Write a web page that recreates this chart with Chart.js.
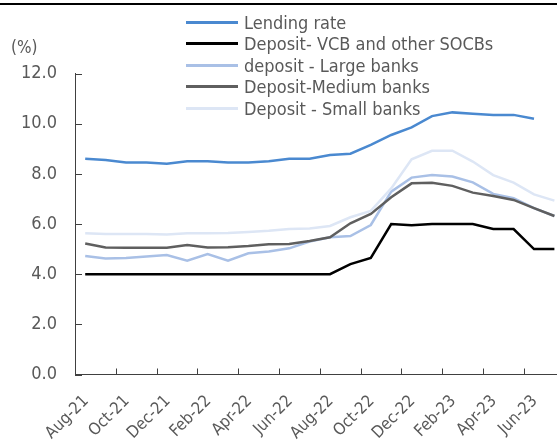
<!DOCTYPE html>
<html>
<head>
<meta charset="utf-8">
<script src="https://cdn.jsdelivr.net/npm/chart.js@4.4.0/dist/chart.umd.min.js"></script>
<style>
  html, body { margin: 0; padding: 0; background: #fff; overflow: hidden; }
  #wrap { position: relative; width: 557px; height: 441px; overflow: hidden; }
  #box { position: absolute; left: 0; top: 0; width: 566px; height: 441px; }
  #topline { position: absolute; left: 0; top: 3px; width: 557px; height: 2px; background: #000; }
  #unit { position: absolute; left: 11px; top: 37px; font: 17px 'DejaVu Sans Condensed', 'DejaVu Sans', sans-serif; color: #595959; }
  #legend { position: absolute; left: 186px; top: 0; font: 18px 'DejaVu Sans Condensed', 'DejaVu Sans', sans-serif; color: #595959; }
  .row { position: absolute; left: 0; height: 20px; display: flex; align-items: center; white-space: nowrap; }
  .swatch { width: 52px; height: 3px; margin-right: 6px; }
</style>
</head>
<body>
<div id="wrap">
  <div id="box"><canvas id="myChart"></canvas></div>
  <div id="topline"></div>
  <div id="unit">(%)</div>
  <div id="legend"></div>
</div>
<script>
const months = ['Aug-21','Sep-21','Oct-21','Nov-21','Dec-21','Jan-22','Feb-22','Mar-22','Apr-22','May-22','Jun-22','Jul-22',
                'Aug-22','Sep-22','Oct-22','Nov-22','Dec-22','Jan-23','Feb-23','Mar-23','Apr-23','May-23','Jun-23','Jul-23']

const names = ['Lending rate', 'Deposit- VCB and other SOCBs', 'deposit - Large banks', 'Deposit-Medium banks', 'Deposit - Small banks']
const colors = ['#4a89d0', '#000000', '#a9c0e6', '#5f5f5f', '#dde6f5']

const lending = [8.6, 8.55, 8.45, 8.45, 8.4, 8.5, 8.5, 8.45, 8.45, 8.5, 8.6, 8.6, 8.75, 8.8, 9.15, 9.55, 9.85, 10.3, 10.45, 10.4, 10.35, 10.35, 10.2, null]
const vcb = [4, 4, 4, 4, 4, 4, 4, 4, 4, 4, 4, 4, 4, 4.4, 4.65, 6.0, 5.95, 6.0, 6.0, 6.0, 5.8, 5.8, 5.0, 5.0]
const large = [4.72, 4.62, 4.64, 4.7, 4.76, 4.54, 4.8, 4.54, 4.83, 4.9, 5.03, 5.3, 5.47, 5.52, 5.96, 7.29, 7.85, 7.95, 7.89, 7.66, 7.2, 7.03, 6.63, 6.32]
const medium = [5.22, 5.06, 5.05, 5.05, 5.05, 5.16, 5.06, 5.07, 5.12, 5.19, 5.2, 5.32, 5.47, 6.03, 6.4, 7.07, 7.62, 7.64, 7.52, 7.25, 7.12, 6.96, 6.63, 6.32]
const small = [5.63, 5.6, 5.6, 5.6, 5.58, 5.63, 5.63, 5.64, 5.68, 5.73, 5.8, 5.82, 5.92, 6.27, 6.52, 7.42, 8.58, 8.92, 8.92, 8.49, 7.95, 7.65, 7.18, 6.93]

const series = [lending, vcb, large, medium, small]
const font = "'DejaVu Sans Condensed', 'DejaVu Sans', sans-serif"

// legend sits inside the plot, so it is plain html
const legend = document.getElementById('legend')
names.forEach((name, i) => {
  const row = document.createElement('div')
  row.className = 'row'
  row.style.top = (12 + i * 21.6) + 'px'
  row.innerHTML = '<span class="swatch" style="background:' + colors[i] + '"></span>' + name
  legend.appendChild(row)
})

// excel style tick marks pointing into the plot, plus the y labels
const tickMarks = {
  id: 'tickMarks',
  afterDatasetsDraw(chart) {
    const { ctx, scales: { x, y } } = chart
    const half = (x.getPixelForValue(1) - x.getPixelForValue(0)) / 2
    ctx.save()
    ctx.strokeStyle = '#404040'
    ctx.lineWidth = 1
    ctx.beginPath()
    for (let i = 0; i < months.length; i += 2) {
      const px = Math.round(x.getPixelForValue(i) - half) + 0.5
      ctx.moveTo(px, y.bottom)
      ctx.lineTo(px, y.bottom - 6)
    }
    y.ticks.forEach(t => {
      const py = Math.round(y.getPixelForValue(t.value)) + 0.5
      ctx.moveTo(x.left, py)
      ctx.lineTo(x.left + 7, py)
    })
    ctx.stroke()

    ctx.fillStyle = '#595959'
    ctx.font = '18px ' + font
    ctx.textAlign = 'right'
    ctx.textBaseline = 'middle'
    y.ticks.forEach(t => {
      ctx.fillText(t.value.toFixed(1), x.left - 18, y.getPixelForValue(t.value))
    })
    ctx.restore()
  }
}

const config = {
  type: 'line',
  data: {
    labels: months,
    datasets: series.map((d, i) => ({
      label: names[i],
      data: d,
      borderColor: colors[i],
      backgroundColor: colors[i],
      borderWidth: 2.5,
      pointRadius: 0,
      tension: 0,
      order: 10 - i
    }))
  },
  options: {
    responsive: true,
    maintainAspectRatio: false,
    animation: false,
    layout: { padding: { top: 73.5, right: 1.4, left: 0, bottom: 0 } },
    plugins: {
      legend: { display: false },
      tooltip: { enabled: false }
    },
    scales: {
      x: {
        offset: true,
        afterFit(s) {
          s.height = 66.5
          s.paddingLeft = 0
          s.paddingRight = 0
        },
        grid: { display: true, drawOnChartArea: false, drawTicks: false, offset: true },
        border: { display: true, color: '#404040', width: 1 },
        ticks: {
          autoSkip: false,
          maxRotation: 45,
          minRotation: 45,
          padding: 17,
          labelOffset: 1,
          color: '#595959',
          font: { family: font, size: 16.5 },
          callback: (v, i) => i % 2 === 0 ? months[i] : ''
        }
      },
      y: {
        min: 0,
        max: 12,
        afterFit(s) { s.width = 75 },
        grid: { display: true, drawOnChartArea: false, drawTicks: false },
        border: { display: true, color: '#404040', width: 1 },
        ticks: {
          stepSize: 2,
          display: false
        }
      }
    }
  },
  plugins: [tickMarks]
}

new Chart(document.getElementById('myChart'), config)
</script>
</body>
</html>
